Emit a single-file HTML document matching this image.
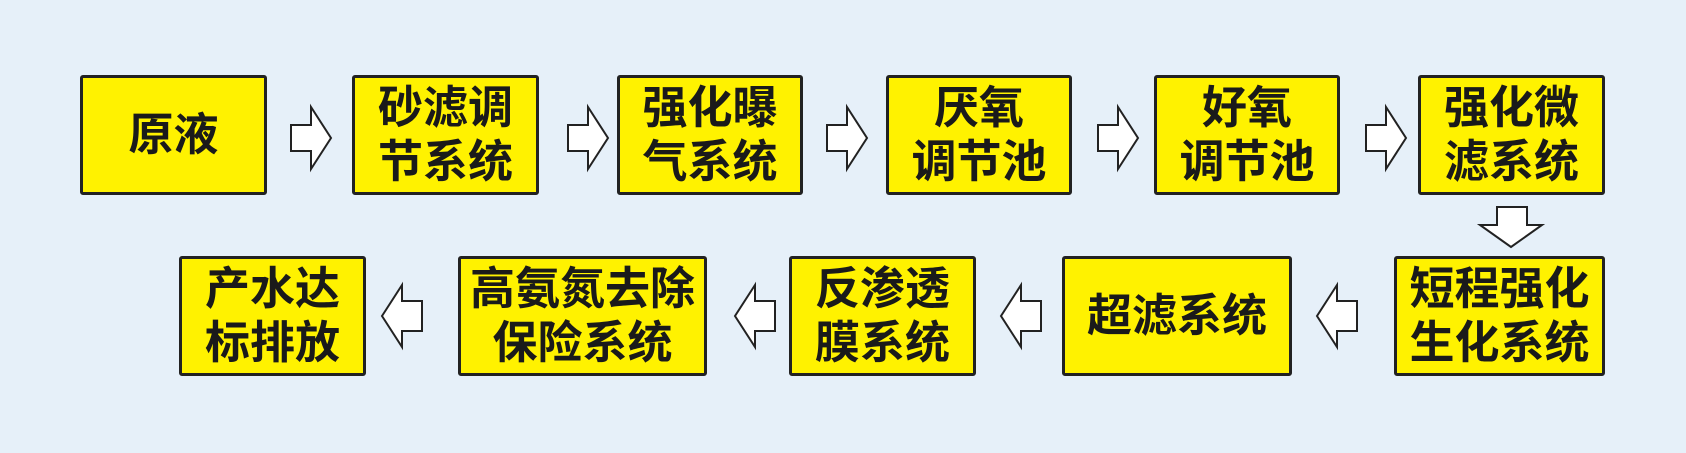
<!DOCTYPE html>
<html><head><meta charset="utf-8"><style>
html,body{margin:0;padding:0}
body{width:1686px;height:453px;background:#e6f0f9;position:relative;overflow:hidden;font-family:"Liberation Sans","Noto Sans CJK SC",sans-serif}
.b{position:absolute;box-sizing:border-box;background:#fff200;border:3px solid #222;border-radius:3px;display:flex;align-items:center;justify-content:center;text-align:center;font-weight:bold;font-size:45px;line-height:54px;color:#1a1a1a;letter-spacing:0}
svg{position:absolute;left:0;top:0}
</style></head><body>
<div class="b" style="left:80px;top:75px;width:187px;height:120px">原液</div>
<div class="b" style="left:352px;top:75px;width:187px;height:120px">砂滤调<br>节系统</div>
<div class="b" style="left:617px;top:75px;width:186px;height:120px">强化曝<br>气系统</div>
<div class="b" style="left:886px;top:75px;width:186px;height:120px">厌氧<br>调节池</div>
<div class="b" style="left:1154px;top:75px;width:186px;height:120px">好氧<br>调节池</div>
<div class="b" style="left:1418px;top:75px;width:187px;height:120px">强化微<br>滤系统</div>
<div class="b" style="left:179px;top:256px;width:187px;height:120px">产水达<br>标排放</div>
<div class="b" style="left:458px;top:256px;width:249px;height:120px">高氨氮去除<br>保险系统</div>
<div class="b" style="left:789px;top:256px;width:187px;height:120px">反渗透<br>膜系统</div>
<div class="b" style="left:1062px;top:256px;width:230px;height:120px">超滤系统</div>
<div class="b" style="left:1394px;top:256px;width:211px;height:120px">短程强化<br>生化系统</div>
<svg width="1686" height="453" fill="#fff" stroke="#222" stroke-width="2">
<g transform="translate(291,107)"><polygon points="0,18 20,18 20,0 40,31 20,62 20,44 0,44"/></g>
<g transform="translate(568,107)"><polygon points="0,18 20,18 20,0 40,31 20,62 20,44 0,44"/></g>
<g transform="translate(827,107)"><polygon points="0,18 20,18 20,0 40,31 20,62 20,44 0,44"/></g>
<g transform="translate(1098,107)"><polygon points="0,18 20,18 20,0 40,31 20,62 20,44 0,44"/></g>
<g transform="translate(1366,107)"><polygon points="0,18 20,18 20,0 40,31 20,62 20,44 0,44"/></g>
<polygon points="1497,207 1527,207 1527,225 1542,225 1511,247 1480,225 1497,225"/>
<g transform="translate(382,285)"><polygon points="40,16 20,16 20,0 0,31 20,62 20,46 40,46"/></g>
<g transform="translate(735,285)"><polygon points="40,16 20,16 20,0 0,31 20,62 20,46 40,46"/></g>
<g transform="translate(1001,285)"><polygon points="40,16 20,16 20,0 0,31 20,62 20,46 40,46"/></g>
<g transform="translate(1317,285)"><polygon points="40,16 20,16 20,0 0,31 20,62 20,46 40,46"/></g>
</svg>
</body></html>
